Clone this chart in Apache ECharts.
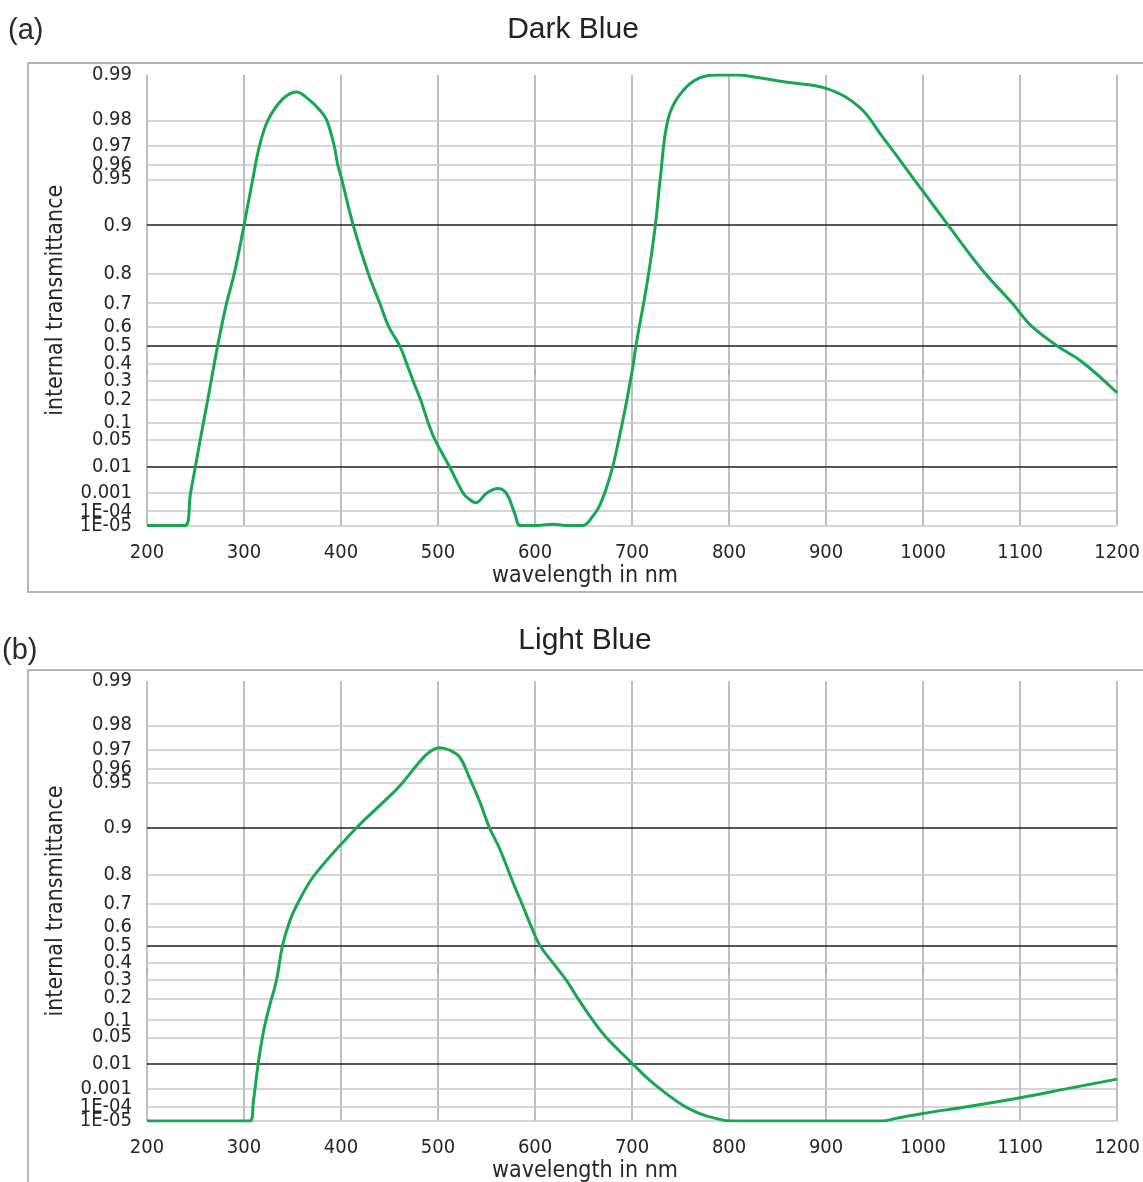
<!DOCTYPE html>
<html>
<head>
<meta charset="utf-8">
<script src="https://cdn.jsdelivr.net/npm/echarts@6/dist/echarts.min.js"></script>
<style>
html,body{margin:0;padding:0;background:#ffffff;}
#chart{width:1143px;height:1182px;}
</style>
</head>
<body>
<div id="chart"></div>
<script>
// ---- data ----
const panelLabels = ['(a)', '(b)'];
const panelTitles = ['Dark Blue', 'Light Blue'];
const xAxisName = 'wavelength in nm';
const yAxisName = 'internal transmittance';

const wavelengthMin = 200;
const wavelengthMax = 1200;
const wavelengthStep = 100;

const transmittanceTicks = [0.99, 0.98, 0.97, 0.96, 0.95, 0.9, 0.8, 0.7, 0.6, 0.5, 0.4, 0.3, 0.2, 0.1, 0.05, 0.01, 0.001, 1e-4, 1e-5];
const transmittanceTickLabels = ['0.99', '0.98', '0.97', '0.96', '0.95', '0.9', '0.8', '0.7', '0.6', '0.5', '0.4', '0.3', '0.2', '0.1', '0.05', '0.01', '0.001', '1E-04', '1E-05'];
const majorTicks = [0.9, 0.5, 0.01];

const darkBlueWavelength = [200, 239, 244.9, 249.8, 254.9, 258.2, 262.6, 266.1, 272.8, 282, 290, 300, 309, 316, 325, 340, 354, 366, 378, 385, 393, 396.6, 400.7, 412.6, 428, 440, 449, 460.5, 467.7, 474.4, 482, 489.8, 496.7, 504, 512, 525.8, 532, 539, 550, 561.5, 570.5, 579, 585, 600, 618, 635, 649, 659.7, 666, 673.4, 680, 687, 694, 700.8, 704, 716, 724, 729, 737, 749, 769, 790, 810, 821, 860, 900, 934, 958, 999, 1026, 1061, 1092, 1102, 1112, 1138, 1164, 1200];
const darkBlueTransmittance = [1e-5, 1e-5, 0.001, 0.01, 0.05, 0.1, 0.2, 0.3, 0.5, 0.7, 0.8, 0.9, 0.95, 0.97, 0.98, 0.9855, 0.987, 0.9855, 0.9828, 0.98, 0.97, 0.96, 0.95, 0.9, 0.8, 0.7, 0.6, 0.5, 0.4, 0.3, 0.2, 0.1, 0.05, 0.025, 0.01, 0.001, 5e-4, 3.2e-4, 9.6e-4, 1.6e-3, 9.6e-4, 7.5e-5, 1e-5, 1e-5, 1.3e-5, 1e-5, 1e-5, 4.9e-5, 1.9e-4, 1.6e-3, 0.01, 0.057, 0.182, 0.382, 0.5, 0.78, 0.9, 0.95, 0.98, 0.9864, 0.9895, 0.99, 0.99, 0.9898, 0.9888, 0.9877, 0.9836, 0.974, 0.941, 0.9, 0.809, 0.7, 0.65, 0.6, 0.5, 0.41, 0.236];

const lightBlueWavelength = [200, 306, 309.8, 314.6, 319.7, 325.2, 333.5, 339.7, 347.5, 355, 373, 416, 440, 460, 481, 491.5, 502, 512, 522, 532, 543, 553, 563.3, 579, 586.6, 596, 605, 618.5, 632, 644, 659.7, 673, 700.5, 718, 735, 752.3, 769, 786, 803, 958, 972, 1000, 1050, 1100, 1150, 1200];
const lightBlueTransmittance = [1e-5, 1e-5, 2.6e-4, 0.01, 0.059, 0.142, 0.3, 0.5, 0.63, 0.7, 0.8, 0.9, 0.929, 0.947, 0.964, 0.9693, 0.9712, 0.970, 0.9668, 0.9545, 0.933, 0.9, 0.864, 0.763, 0.7, 0.6, 0.5, 0.4, 0.3, 0.2, 0.1, 0.05, 0.01, 2.5e-3, 6.1e-4, 1.3e-4, 3.7e-5, 1.6e-5, 1e-5, 1e-5, 1.6e-5, 3.7e-5, 1.17e-4, 3.6e-4, 1.08e-3, 2.77e-3];

// ---- scale: internal transmittance axis, position = -log10(-ln T) ----
const toAxis = t => -Math.log10(-Math.log(t));
const yMin = toAxis(1e-5);
const yMax = toAxis(0.99);
const tickPositions = transmittanceTicks.map(toAxis);
function tickText(v) {
  let best = 0, d = Infinity;
  tickPositions.forEach((p, i) => { const dd = Math.abs(p - v); if (dd < d) { d = dd; best = i; } });
  return transmittanceTickLabels[best];
}
// label order: the two end entries are kept apart so that every tick label is drawn
const n = tickPositions.length;
const labelOrder = [tickPositions[n - 1]].concat(tickPositions.slice(0, 5), tickPositions.slice(6, n - 1), [tickPositions[5]]);

const tickFont = '"DejaVu Sans Condensed", "DejaVu Sans", sans-serif';
const titleFont = '"Liberation Sans", Arial, sans-serif';
const green = '#17a651';
const vGrid = '#a9a9a9';
const hGrid = '#c8c8c8';
const dark = '#1e1e1e';
const textColor = '#262626';

const grids = [
  { left: 147, top: 75, width: 971.5, height: 450.6 },
  { left: 147, top: 681, width: 971.5, height: 440 }
];
const xNameY = [576, 1171];

const xAxes = grids.map((g, i) => ({
  type: 'value', gridIndex: i,
  min: wavelengthMin, max: wavelengthMax, interval: wavelengthStep,
  axisLine: { show: false },
  axisTick: { show: true, length: 5, lineStyle: { color: vGrid, width: 1.5 } },
  axisLabel: { margin: 17, fontSize: 20, color: textColor, fontFamily: tickFont, formatter: v => String(v) },
  splitLine: { show: true, lineStyle: { color: vGrid, width: 1.5 } }
}));

const yAxes = grids.map((g, i) => ({
  type: 'value', gridIndex: i,
  min: yMin, max: yMax,
  axisLine: { show: false },
  axisTick: { show: false },
  splitLine: { show: false },
  axisLabel: {
    customValues: labelOrder,
    formatter: v => tickText(v),
    showMinLabel: true, showMaxLabel: true, hideOverlap: false,
    margin: 15, fontSize: 20, color: textColor, fontFamily: tickFont
  },
  name: yAxisName, nameLocation: 'middle', nameGap: 79, nameRotate: 90,
  nameTextStyle: { fontSize: 23, color: textColor, fontFamily: tickFont }
}));

function gridLineSeries(i) {
  return {
    type: 'line', xAxisIndex: i, yAxisIndex: i, data: [], z: 1, silent: true,
    markLine: {
      silent: true, symbol: ['none', 'none'], z: 1, animation: false,
      label: { show: false },
      data: transmittanceTicks.map(t => {
        const major = majorTicks.indexOf(t) >= 0;
        return {
          yAxis: toAxis(t),
          lineStyle: major ? { color: dark, width: 1.7, type: 'solid' } : { color: hGrid, width: 1.6, type: 'solid' }
        };
      })
    }
  };
}

function curveSeries(i, xs, ts, name) {
  return {
    name: name, type: 'line', xAxisIndex: i, yAxisIndex: i, z: 3,
    data: xs.map((x, k) => [x, toAxis(ts[k])]),
    showSymbol: false, smooth: 0.4, clip: true,
    lineStyle: { color: green, width: 3 }
  };
}

const graphics = [
  { type: 'rect', shape: { x: 28, y: 63, width: 1125, height: 529 }, style: { fill: 'none', stroke: '#b5b5b5', lineWidth: 2 }, z: -1, silent: true },
  { type: 'rect', shape: { x: 28, y: 670, width: 1125, height: 600 }, style: { fill: 'none', stroke: '#b5b5b5', lineWidth: 2 }, z: -1, silent: true },
  { type: 'text', style: { text: panelLabels[0], x: 8, y: 31, font: '29px ' + titleFont, fill: '#2a2a2a', textAlign: 'left', textVerticalAlign: 'middle' } },
  { type: 'text', style: { text: panelLabels[1], x: 2, y: 651, font: '29px ' + titleFont, fill: '#2a2a2a', textAlign: 'left', textVerticalAlign: 'middle' } },
  { type: 'text', style: { text: panelTitles[0], x: 573, y: 30, font: '30px ' + titleFont, fill: '#222', textAlign: 'center', textVerticalAlign: 'middle' } },
  { type: 'text', style: { text: panelTitles[1], x: 585, y: 641, font: '30px ' + titleFont, fill: '#222', textAlign: 'center', textVerticalAlign: 'middle' } },
  { type: 'text', style: { text: xAxisName, x: 585, y: xNameY[0], font: '23px ' + tickFont, fill: textColor, textAlign: 'center', textVerticalAlign: 'middle' } },
  { type: 'text', style: { text: xAxisName, x: 585, y: xNameY[1], font: '23px ' + tickFont, fill: textColor, textAlign: 'center', textVerticalAlign: 'middle' } }
];

const chart = echarts.init(document.getElementById('chart'), null, { renderer: 'canvas' });
chart.setOption({
  animation: false,
  backgroundColor: '#ffffff',
  grid: grids,
  xAxis: xAxes,
  yAxis: yAxes,
  graphic: graphics,
  series: [
    gridLineSeries(0),
    gridLineSeries(1),
    curveSeries(0, darkBlueWavelength, darkBlueTransmittance, panelTitles[0]),
    curveSeries(1, lightBlueWavelength, lightBlueTransmittance, panelTitles[1])
  ]
});
</script>
</body>
</html>
